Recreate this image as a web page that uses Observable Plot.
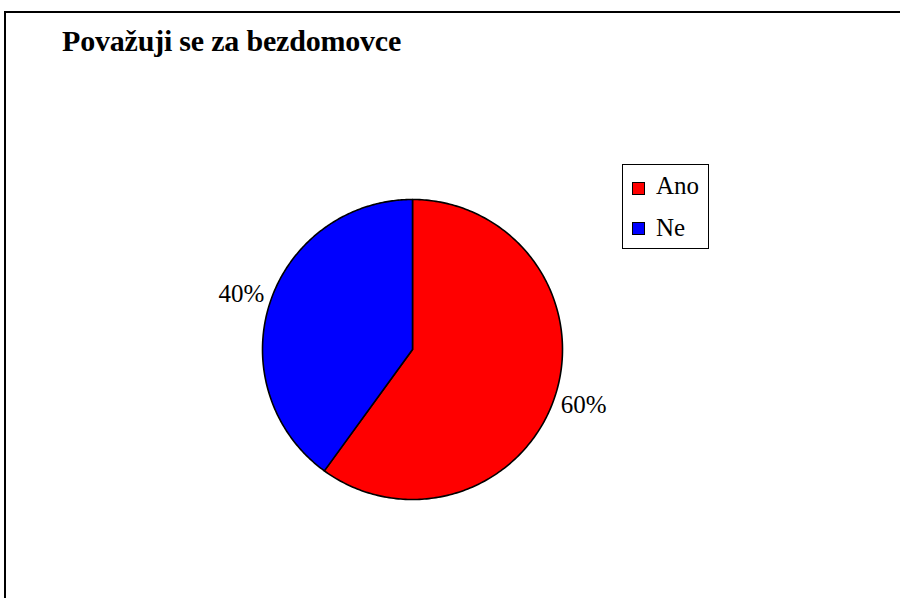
<!DOCTYPE html>
<html>
<head>
<meta charset="utf-8">
<script src="https://cdn.jsdelivr.net/npm/d3@7"></script>
<script src="https://cdn.jsdelivr.net/npm/@observablehq/plot@0.6"></script>
<style>
  html, body { margin: 0; padding: 0; background: #fff; }
  #wrap { position: relative; width: 900px; height: 598px; overflow: hidden; font-family: "Liberation Serif", "Times New Roman", serif; }
  #frame { position: absolute; left: 4px; top: 11px; width: 1000px; height: 1000px; border-left: 2.5px solid #000; border-top: 2.5px solid #000; }
  #title { position: absolute; left: 62px; top: 26px; font-size: 30px; line-height: 30px; font-weight: bold; white-space: nowrap; color: #000; letter-spacing: -0.2px; }
  #chart { position: absolute; left: 0; top: 0; }
  #chart svg, #chart svg text { font-family: "Liberation Serif", "Times New Roman", serif !important; }
  #legend { position: absolute; left: 622px; top: 164px; width: 85px; height: 83px; border: 1.5px solid #000; background: #fff; }
  .item { position: absolute; left: 0; font-size: 25px; line-height: 25px; white-space: nowrap; }
  .sw { position: absolute; left: 9px; width: 11px; height: 11px; border: 1.2px solid #000; }
  .lab { position: absolute; left: 33px; }
</style>
</head>
<body>
<div id="wrap">
  <div id="frame"></div>
  <div id="chart"></div>
  <div id="title"></div>
  <div id="legend"></div>
</div>
<script>
const title = "Považuji se za bezdomovce";
const categories = ["Ano", "Ne"];
const values = [60, 40];
const colors = ["#ff0000", "#0000ff"];

const W = 900, H = 598, R = 150, CX = 412, CY = 349;

const arcs = d3.pie().sort(null)(values).map((a, i) => ({...a, cat: categories[i]}));

function slicePoints(a) {
  const pts = [{cat: a.cat, x: 0, y: 0}];
  const n = 240;
  for (let k = 0; k <= n; k++) {
    const t = a.startAngle + (a.endAngle - a.startAngle) * k / n;
    pts.push({cat: a.cat, x: Math.sin(t), y: Math.cos(t)});
  }
  pts.push({cat: a.cat, x: 0, y: 0});
  return pts;
}

const sliceMarks = arcs.map((a, i) =>
  Plot.line(slicePoints(a), {x: "x", y: "y", fill: colors[i], stroke: "#000", strokeWidth: 1.6, strokeLinejoin: "round"})
);

const labelR = 1.2;
const chart = Plot.plot({
  width: W,
  height: H,
  margin: 0,
  x: {type: "linear", domain: [-CX / R, (W - CX) / R], axis: null},
  y: {type: "linear", domain: [-(H - CY) / R, CY / R], axis: null},
  style: {background: "transparent", overflow: "visible", fontFamily: "'Liberation Serif', serif"},
  marks: [
    ...sliceMarks,
    Plot.text(arcs, {
      x: d => labelR * Math.sin((d.startAngle + d.endAngle) / 2),
      y: d => labelR * Math.cos((d.startAngle + d.endAngle) / 2),
      text: d => d.data + "%",
      fontSize: 25,
      fontFamily: "Liberation Serif",
      fill: "#000",
      textAnchor: "middle",
      lineAnchor: "middle"
    })
  ]
});
document.getElementById("chart").appendChild(chart);
document.getElementById("title").textContent = title;

const legend = document.getElementById("legend");
categories.forEach((c, i) => {
  const item = document.createElement("div");
  item.className = "item";
  item.style.top = (8 + i * 42) + "px";
  const sw = document.createElement("div");
  sw.className = "sw";
  sw.style.background = colors[i];
  sw.style.top = (i === 0 ? 9 : 7) + "px";
  const lab = document.createElement("div");
  lab.className = "lab";
  lab.textContent = c;
  item.appendChild(sw);
  item.appendChild(lab);
  legend.appendChild(item);
});
</script>
</body>
</html>
